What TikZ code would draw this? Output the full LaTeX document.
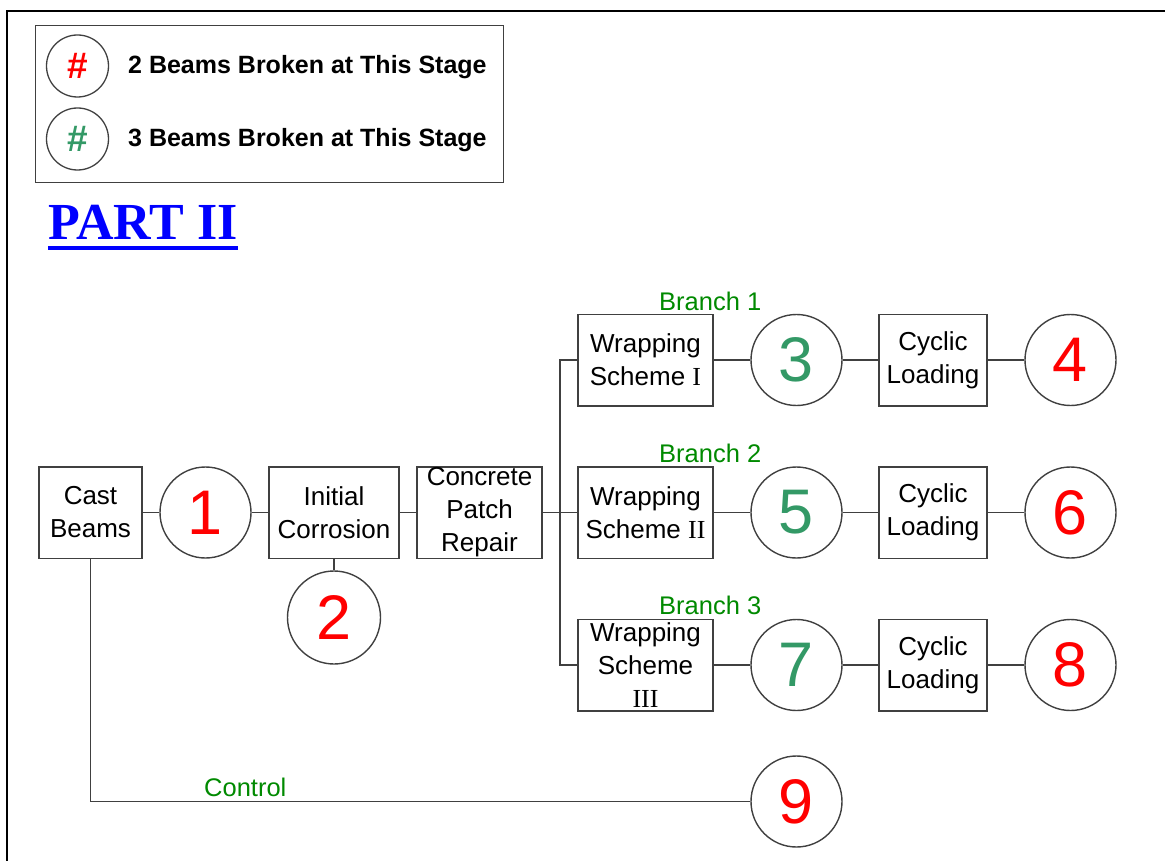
\documentclass[tikz,border=0pt]{standalone}
\usepackage{fontspec}
\setmainfont{Liberation Sans}
\newfontfamily\romfont{Liberation Serif}
\definecolor{linec}{HTML}{404040}
\definecolor{numred}{HTML}{FF0000}
\definecolor{numgreen}{HTML}{339966}
\definecolor{brgreen}{HTML}{008A00}
\definecolor{partblue}{HTML}{0000FF}
\begin{document}
\begin{tikzpicture}[x=1pt,y=-1pt,
  stage/.style={draw=linec, line width=1.5pt, fill=white, minimum width=#1,
    minimum height=91.5pt, inner sep=0pt, align=center,
    font=\fontsize{26}{33}\selectfont},
  num/.style={circle, draw=linec, line width=1.4pt, fill=white, minimum size=91pt,
    inner sep=0pt, font=\fontsize{63}{63}\selectfont},
  two/.style={num, text=numred},
  three/.style={num, text=numgreen},
  lbl/.style={anchor=base west, inner sep=0pt, text=brgreen,
    font=\fontsize{25.5}{30}\selectfont},
  legtxt/.style={anchor=base west, inner sep=0pt,
    font=\fontsize{25}{30}\selectfont\bfseries},
  legnum/.style={circle, draw=linec, line width=1.3pt, minimum size=62pt,
    inner sep=0pt, font=\fontsize{37}{37}\selectfont\bfseries},
  wire/.style={draw=linec, line width=1.5pt}]
\useasboundingbox (0,0) rectangle (1165,861);
\fill[white] (0,0) rectangle (1165,861);
% frame
\draw[black, line width=2.7pt] (7,861) -- (7,11) -- (1165,11);

% legend
\node[draw=linec, line width=1.4pt, minimum width=468pt, minimum height=157pt,
  inner sep=0pt, anchor=north west] (legend) at (35,25) {};
\node[legnum, text=numred] (lg1) at (77.5,66) {\#};
\node[legnum, text=numgreen] (lg2) at (77.5,139) {\#};
\node[legtxt] (lt1) at (128,74) {2 Beams Broken at This Stage};
\node[legtxt] (lt2) at (128,147) {3 Beams Broken at This Stage};

% title
\node[anchor=base west, inner sep=0pt, text=partblue,
  font=\romfont\bfseries\fontsize{52}{52}\selectfont] (part) at (48,240) {PART II};
\fill[partblue] ([yshift=-6pt]part.base west) rectangle ([yshift=-10.5pt]part.base east);

% main row
\node[stage=103pt] (cast) at (90.5,512.5) {Cast\\Beams};
\node[two] (n1) at (205.5,512.5) {1};
\node[stage=130pt] (init) at (334,512.5) {Initial\\Corrosion};
\node[two, minimum size=93pt] (n2) at (334,617.5) {2};
\node[stage=125pt] (patch) at (479.5,512.5) {Concrete\\Patch\\Repair};

% branches
\node[stage=135pt] (ws1) at (645.5,360) {Wrapping\\Scheme {\romfont I}};
\node[stage=135pt] (ws2) at (645.5,512.5) {Wrapping\\Scheme {\romfont II}};
\node[stage=135pt] (ws3) at (645.5,665) {Wrapping\\Scheme\\{\romfont III}};
\node[three] (n3) at (796.5,360) {3};
\node[three] (n5) at (796.5,512.5) {5};
\node[three] (n7) at (796.5,665) {7};
\node[stage=108pt] (cy1) at (933,360) {Cyclic\\Loading};
\node[stage=108pt] (cy2) at (933,512.5) {Cyclic\\Loading};
\node[stage=108pt] (cy3) at (933,665) {Cyclic\\Loading};
\node[two] (n4) at (1070.5,360) {4};
\node[two] (n6) at (1070.5,512.5) {6};
\node[two] (n8) at (1070.5,665) {8};
\node[two] (n9) at (796.5,801.5) {9};

\node[lbl] (b1) at (659,310) {Branch 1};
\node[lbl] (b2) at (659,462) {Branch 2};
\node[lbl] (b3) at (659,614) {Branch 3};
\node[lbl] (ctl) at (204,796) {Control};

\coordinate (split) at (560,512.5);

% connectors
\draw[wire] (cast) -- (n1);
\draw[wire] (n1) -- (init);
\draw[wire] (init) -- (patch);
\draw[wire] (init.south) -- (n2.north);
\draw[wire] (patch) -- (ws2);
\draw[wire] (ws1.west) -| (split) |- (ws3.west);
\draw[wire] (ws1) -- (n3);
\draw[wire] (ws2) -- (n5);
\draw[wire] (ws3) -- (n7);
\draw[wire] (n3) -- (cy1);
\draw[wire] (n5) -- (cy2);
\draw[wire] (n7) -- (cy3);
\draw[wire] (cy1) -- (n4);
\draw[wire] (cy2) -- (n6);
\draw[wire] (cy3) -- (n8);
\draw[wire] (cast.south) |- (n9.west);
\end{tikzpicture}
\end{document}
